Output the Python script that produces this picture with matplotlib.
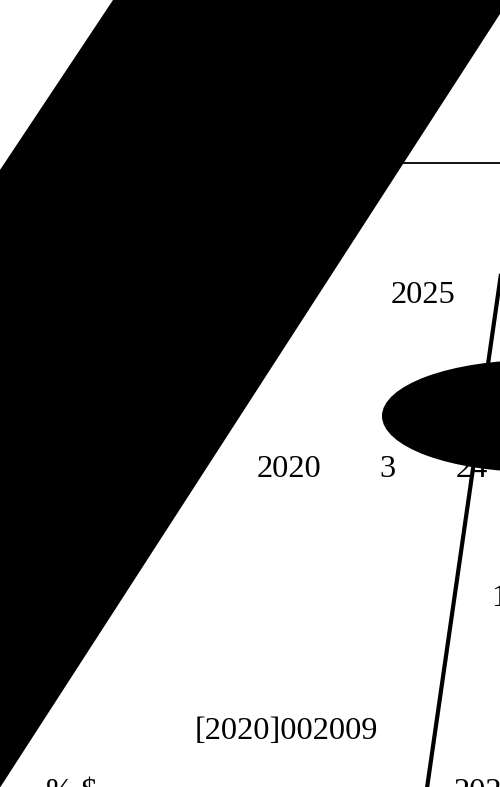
import matplotlib.pyplot as plt
from matplotlib.patches import Polygon, Ellipse

# shapes, in picture pixels (y downwards)
band_x = [113, 509, -8, -8]
band_y = [0, 0, 800, 182]
rule_x = [402, 505]
rule_y = [163, 163]
stroke_x = [503, 426]
stroke_y = [260, 795]
blob_center = (535, 416)
blob_size = (306, 112)

# text fragments
labels = ["2025", "2020", "3", "24", "1", "[2020]002009", "% $", "202"]
label_x = [391, 257, 379, 456, 491, 195, 46, 454]
label_y = [303, 477, 477, 477, 606, 739, 800, 800]

fig = plt.figure(figsize=(5, 7.87), dpi=100)
ax = fig.add_axes([0, 0, 1, 1])
ax.set_xlim(0, 500)
ax.set_ylim(787, 0)
ax.axis('off')

ax.add_patch(Polygon(list(zip(band_x, band_y)), closed=True, color='black', lw=0))
ax.plot(rule_x, rule_y, color='black', lw=1.3, solid_capstyle='butt')

for t, x, y in zip(labels, label_x, label_y):
    ax.text(x, y, t, fontsize=23.3, family='Liberation Serif', ha='left', va='baseline', color='black')

ax.add_patch(Ellipse(blob_center, blob_size[0], blob_size[1], color='black', lw=0, zorder=3))
ax.plot(stroke_x, stroke_y, color='black', lw=3, solid_capstyle='butt', zorder=4)

fig.savefig('out.png', dpi=100)
